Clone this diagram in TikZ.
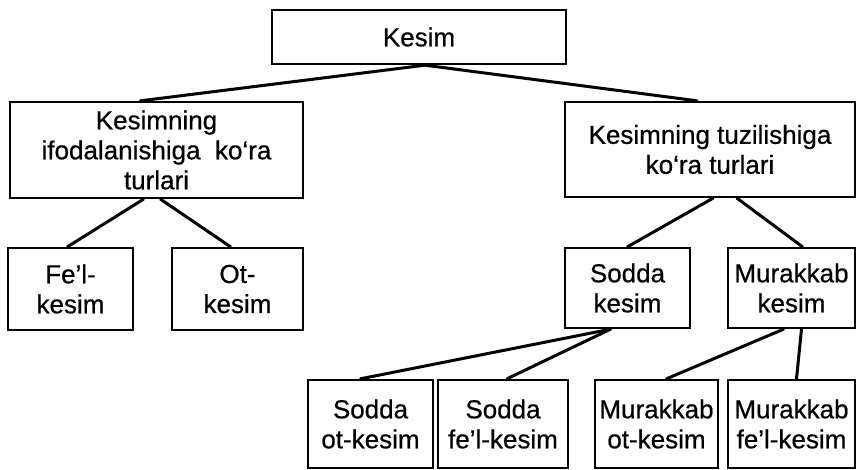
\documentclass[tikz,border=0pt]{standalone}
\usepackage{fontspec}
\setmainfont[FakeBold=0.6]{Liberation Sans}
\tikzset{
  box/.style={draw, line width=2.4pt, align=center, inner sep=0pt, font=\fontsize{26}{30}\selectfont},
  link/.style={line width=3pt, line cap=round}
}
\begin{document}
\begin{tikzpicture}[x=1pt, y=-1pt]
  \useasboundingbox (0,0) rectangle (857,470);
  % levels of the tree
  \node[box, minimum width=294pt, minimum height=54pt] (kesim) at (419,37) {Kesim};
  \node[box, minimum width=293pt, minimum height=96pt] (ifoda) at (156.5,150) {Kesimning\\ifodalanishiga\ \ ko‘ra\\turlari};
  \node[box, minimum width=290pt, minimum height=95pt] (tuzil) at (710,149.5) {Kesimning tuzilishiga\\ko‘ra turlari};
  \node[box, minimum width=125pt, minimum height=82pt] (fel) at (70.5,289) {Fe’l-\\kesim};
  \node[box, minimum width=131pt, minimum height=82pt] (ot) at (237.5,289) {Ot-\\kesim};
  \node[box, minimum width=125pt, minimum height=80pt] (sodda) at (627.5,288) {Sodda\\kesim};
  \node[box, minimum width=127pt, minimum height=80pt] (murak) at (791.5,288) {Murakkab\\kesim};
  \node[box, minimum width=125pt, minimum height=88pt] (sot) at (370.5,424) {Sodda\\ot-kesim};
  \node[box, minimum width=130pt, minimum height=88pt] (sfel) at (503,424) {Sodda\\fe’l-kesim};
  \node[box, minimum width=123pt, minimum height=88pt] (mot) at (656.5,424) {Murakkab\\ot-kesim};
  \node[box, minimum width=127pt, minimum height=88pt] (mfel) at (791.5,424) {Murakkab\\fe’l-kesim};
  % connectors
  \draw[link] ([xshift=6pt]kesim.south) -- ([xshift=-16pt]ifoda.north);
  \draw[link] ([xshift=6pt]kesim.south) -- ([xshift=-13pt]tuzil.north);
  \draw[link] ([xshift=-13pt]ifoda.south) -- ([xshift=-3pt]fel.north);
  \draw[link] ([xshift=4pt]ifoda.south) -- ([xshift=-7pt]ot.north);
  \draw[link] ([xshift=3pt]tuzil.south) -- (sodda.north);
  \draw[link] ([xshift=27pt]tuzil.south) -- ([xshift=11pt]murak.north);
  \draw[link] ([xshift=-17pt]sodda.south) -- ([xshift=-10pt]sot.north);
  \draw[link] ([xshift=-17pt]sodda.south) -- ([xshift=4pt]sfel.north);
  \draw[link] ([xshift=-8pt]murak.south) -- ([xshift=10pt]mot.north);
  \draw[link] ([xshift=10pt]murak.south) -- ([xshift=5pt]mfel.north);
\end{tikzpicture}
\end{document}
